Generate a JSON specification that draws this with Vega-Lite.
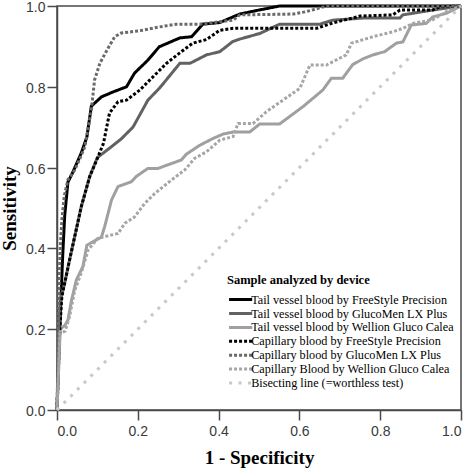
{
  "$schema": "https://vega.github.io/schema/vega-lite/v6.json",
  "width": 404,
  "height": 404,
  "autosize": {"type": "none"},
  "padding": {"left": 57, "top": 6, "right": 11, "bottom": 60},
  "background": "white",
  "config": {
    "view": {"stroke": "#4a4a4a", "strokeWidth": 1.5},
    "axis": {
      "labelFont": "Liberation Sans", "labelFontSize": 14, "labelColor": "#3a3a3a",
      "titleFont": "Liberation Serif", "titleFontSize": 19, "titleFontWeight": "bold", "titleColor": "#000000",
      "domainColor": "#4a4a4a", "domainWidth": 1.5, "tickColor": "#4a4a4a", "tickWidth": 1.5, "tickSize": 10, "grid": false
    },
    "legend": {
      "titleFont": "Liberation Serif", "titleFontSize": 12.5, "titleFontWeight": "bold", "titleColor": "#000000",
      "labelFont": "Liberation Serif", "labelFontSize": 12.2, "labelColor": "#000000", "labelLimit": 0
    }
  },
  "data": {"values": [
    {"s":"a","x":0,"y":0},{"s":"a","x":0.005,"y":0.15},{"s":"a","x":0.01,"y":0.28},{"s":"a","x":0.014,"y":0.38},{"s":"a","x":0.019,"y":0.48},{"s":"a","x":0.027,"y":0.564},{"s":"a","x":0.038,"y":0.586},{"s":"a","x":0.06,"y":0.636},{"s":"a","x":0.074,"y":0.676},{"s":"a","x":0.085,"y":0.752},{"s":"a","x":0.11,"y":0.775},{"s":"a","x":0.138,"y":0.787},{"s":"a","x":0.172,"y":0.8},{"s":"a","x":0.192,"y":0.834},{"s":"a","x":0.225,"y":0.866},{"s":"a","x":0.253,"y":0.899},{"s":"a","x":0.304,"y":0.921},{"s":"a","x":0.333,"y":0.924},{"s":"a","x":0.361,"y":0.955},{"s":"a","x":0.403,"y":0.959},{"s":"a","x":0.452,"y":0.98},{"s":"a","x":0.5,"y":0.99},{"s":"a","x":0.551,"y":1},{"s":"a","x":1,"y":1},
    {"s":"b","x":0,"y":0},{"s":"b","x":0.004,"y":0.18},{"s":"b","x":0.008,"y":0.27},{"s":"b","x":0.019,"y":0.314},{"s":"b","x":0.031,"y":0.371},{"s":"b","x":0.044,"y":0.43},{"s":"b","x":0.06,"y":0.503},{"s":"b","x":0.081,"y":0.578},{"s":"b","x":0.1,"y":0.625},{"s":"b","x":0.13,"y":0.648},{"s":"b","x":0.16,"y":0.672},{"s":"b","x":0.188,"y":0.7},{"s":"b","x":0.225,"y":0.767},{"s":"b","x":0.254,"y":0.797},{"s":"b","x":0.304,"y":0.858},{"s":"b","x":0.329,"y":0.858},{"s":"b","x":0.37,"y":0.879},{"s":"b","x":0.403,"y":0.887},{"s":"b","x":0.435,"y":0.912},{"s":"b","x":0.452,"y":0.918},{"s":"b","x":0.502,"y":0.932},{"s":"b","x":0.551,"y":0.955},{"s":"b","x":0.65,"y":0.955},{"s":"b","x":0.683,"y":0.965},{"s":"b","x":0.757,"y":0.97},{"s":"b","x":0.849,"y":0.97},{"s":"b","x":0.856,"y":0.978},{"s":"b","x":0.93,"y":0.99},{"s":"b","x":1,"y":1},
    {"s":"c","x":0,"y":0},{"s":"c","x":0.004,"y":0.1},{"s":"c","x":0.008,"y":0.2},{"s":"c","x":0.02,"y":0.21},{"s":"c","x":0.027,"y":0.223},{"s":"c","x":0.036,"y":0.272},{"s":"c","x":0.048,"y":0.322},{"s":"c","x":0.064,"y":0.355},{"s":"c","x":0.074,"y":0.408},{"s":"c","x":0.11,"y":0.428},{"s":"c","x":0.118,"y":0.454},{"s":"c","x":0.135,"y":0.52},{"s":"c","x":0.151,"y":0.553},{"s":"c","x":0.184,"y":0.565},{"s":"c","x":0.196,"y":0.578},{"s":"c","x":0.225,"y":0.598},{"s":"c","x":0.25,"y":0.598},{"s":"c","x":0.308,"y":0.619},{"s":"c","x":0.32,"y":0.633},{"s":"c","x":0.353,"y":0.655},{"s":"c","x":0.386,"y":0.672},{"s":"c","x":0.411,"y":0.683},{"s":"c","x":0.436,"y":0.688},{"s":"c","x":0.477,"y":0.688},{"s":"c","x":0.502,"y":0.708},{"s":"c","x":0.551,"y":0.708},{"s":"c","x":0.609,"y":0.751},{"s":"c","x":0.658,"y":0.792},{"s":"c","x":0.679,"y":0.821},{"s":"c","x":0.707,"y":0.821},{"s":"c","x":0.732,"y":0.855},{"s":"c","x":0.757,"y":0.869},{"s":"c","x":0.782,"y":0.879},{"s":"c","x":0.811,"y":0.887},{"s":"c","x":0.84,"y":0.908},{"s":"c","x":0.856,"y":0.911},{"s":"c","x":0.877,"y":0.953},{"s":"c","x":0.914,"y":0.957},{"s":"c","x":0.93,"y":0.973},{"s":"c","x":0.964,"y":0.982},{"s":"c","x":1,"y":1},
    {"s":"d","x":0,"y":0},{"s":"d","x":0.004,"y":0.12},{"s":"d","x":0.007,"y":0.2},{"s":"d","x":0.012,"y":0.28},{"s":"d","x":0.019,"y":0.314},{"s":"d","x":0.031,"y":0.371},{"s":"d","x":0.044,"y":0.43},{"s":"d","x":0.06,"y":0.503},{"s":"d","x":0.081,"y":0.578},{"s":"d","x":0.1,"y":0.623},{"s":"d","x":0.115,"y":0.66},{"s":"d","x":0.13,"y":0.735},{"s":"d","x":0.151,"y":0.763},{"s":"d","x":0.172,"y":0.767},{"s":"d","x":0.205,"y":0.792},{"s":"d","x":0.23,"y":0.817},{"s":"d","x":0.271,"y":0.858},{"s":"d","x":0.304,"y":0.884},{"s":"d","x":0.336,"y":0.908},{"s":"d","x":0.37,"y":0.917},{"s":"d","x":0.403,"y":0.94},{"s":"d","x":0.436,"y":0.945},{"s":"d","x":0.643,"y":0.945},{"s":"d","x":0.683,"y":0.958},{"s":"d","x":0.75,"y":0.975},{"s":"d","x":0.831,"y":0.978},{"s":"d","x":0.849,"y":0.99},{"s":"d","x":0.93,"y":0.99},{"s":"d","x":0.947,"y":0.998},{"s":"d","x":1,"y":1},
    {"s":"e","x":0,"y":0},{"s":"e","x":0.003,"y":0.15},{"s":"e","x":0.005,"y":0.3},{"s":"e","x":0.008,"y":0.4},{"s":"e","x":0.012,"y":0.47},{"s":"e","x":0.018,"y":0.53},{"s":"e","x":0.027,"y":0.57},{"s":"e","x":0.044,"y":0.594},{"s":"e","x":0.06,"y":0.63},{"s":"e","x":0.069,"y":0.652},{"s":"e","x":0.085,"y":0.743},{"s":"e","x":0.093,"y":0.817},{"s":"e","x":0.106,"y":0.858},{"s":"e","x":0.126,"y":0.895},{"s":"e","x":0.143,"y":0.924},{"s":"e","x":0.159,"y":0.933},{"s":"e","x":0.213,"y":0.94},{"s":"e","x":0.246,"y":0.947},{"s":"e","x":0.296,"y":0.955},{"s":"e","x":0.353,"y":0.955},{"s":"e","x":0.436,"y":0.965},{"s":"e","x":0.452,"y":0.978},{"s":"e","x":0.584,"y":0.98},{"s":"e","x":0.617,"y":0.986},{"s":"e","x":0.667,"y":1},{"s":"e","x":1,"y":1},
    {"s":"f","x":0,"y":0},{"s":"f","x":0.004,"y":0.1},{"s":"f","x":0.007,"y":0.19},{"s":"f","x":0.02,"y":0.195},{"s":"f","x":0.031,"y":0.231},{"s":"f","x":0.044,"y":0.297},{"s":"f","x":0.06,"y":0.339},{"s":"f","x":0.077,"y":0.396},{"s":"f","x":0.101,"y":0.425},{"s":"f","x":0.151,"y":0.437},{"s":"f","x":0.168,"y":0.462},{"s":"f","x":0.192,"y":0.478},{"s":"f","x":0.217,"y":0.511},{"s":"f","x":0.242,"y":0.536},{"s":"f","x":0.283,"y":0.569},{"s":"f","x":0.316,"y":0.594},{"s":"f","x":0.341,"y":0.623},{"s":"f","x":0.37,"y":0.639},{"s":"f","x":0.403,"y":0.668},{"s":"f","x":0.436,"y":0.677},{"s":"f","x":0.448,"y":0.709},{"s":"f","x":0.485,"y":0.709},{"s":"f","x":0.518,"y":0.738},{"s":"f","x":0.559,"y":0.767},{"s":"f","x":0.601,"y":0.796},{"s":"f","x":0.626,"y":0.854},{"s":"f","x":0.667,"y":0.854},{"s":"f","x":0.716,"y":0.879},{"s":"f","x":0.729,"y":0.908},{"s":"f","x":0.782,"y":0.924},{"s":"f","x":0.831,"y":0.936},{"s":"f","x":0.857,"y":0.945},{"s":"f","x":0.881,"y":0.957},{"s":"f","x":0.93,"y":0.966},{"s":"f","x":0.964,"y":0.986},{"s":"f","x":1,"y":1},
    {"s":"g","x":0,"y":0},{"s":"g","x":1,"y":1}
  ]},
  "mark": {"type": "line", "strokeWidth": 3, "strokeCap": "butt"},
  "encoding": {
    "x": {"field": "x", "type": "quantitative", "scale": {"domain": [0, 1], "nice": false, "zero": false},
      "axis": {"values": [0, 0.2, 0.4, 0.6, 0.8, 1], "format": ".1f", "title": "1 - Specificity", "labelPadding": 4, "titlePadding": 10}},
    "y": {"field": "y", "type": "quantitative", "scale": {"domain": [0, 1], "nice": false, "zero": false},
      "axis": {"values": [0, 0.2, 0.4, 0.6, 0.8, 1], "format": ".1f", "title": "Sensitivity", "labelPadding": 2, "titlePadding": 6, "labelOffset": 1.5}},
    "color": {"field": "s", "type": "nominal",
      "scale": {"domain": ["a","b","c","d","e","f","g"], "range": ["#000000","#626262","#a0a0a0","#000000","#6a6a6a","#a6a6a6","#c8c8c8"]},
      "legend": {"title": "Sample analyzed by device", "orient": "none", "legendX": 170, "legendY": 268, "padding": 0,
        "titleFont": "Liberation Serif", "titleFontSize": 12.5, "titleFontWeight": "bold", "titleColor": "#000000", "titlePadding": 7,
        "labelFont": "Liberation Serif", "labelFontSize": 12.2, "labelColor": "#000000", "labelOffset": 12, "labelLimit": 0,
        "symbolType": "M-1.15,0H5.45", "symbolSize": 49, "symbolStrokeWidth": 3, "rowPadding": 0.9,
        "labelExpr": "{'a':'Tail vessel blood by FreeStyle Precision','b':'Tail vessel blood by GlucoMen LX Plus','c':'Tail vessel blood by Wellion Gluco Calea','d':'Capillary blood by FreeStyle Precision','e':'Capillary blood by GlucoMen LX Plus','f':'Capillary Blood by Wellion Gluco Calea','g':'Bisecting line (=worthless test)'}[datum.label]"}},
    "strokeDash": {"field": "s", "type": "nominal",
      "scale": {"domain": ["a","b","c","d","e","f","g"], "range": [[1,0],[1,0],[1,0],[3,2],[3,2],[3,2],[3,6.5]]},
      "legend": {"title": "Sample analyzed by device", "orient": "none", "legendX": 170, "legendY": 268, "padding": 0,
        "titleFont": "Liberation Serif", "titleFontSize": 12.5, "titleFontWeight": "bold", "titleColor": "#000000", "titlePadding": 7,
        "labelFont": "Liberation Serif", "labelFontSize": 12.2, "labelColor": "#000000", "labelOffset": 12, "labelLimit": 0,
        "symbolType": "M-1.15,0H5.45", "symbolSize": 49, "symbolStrokeWidth": 3, "rowPadding": 0.9,
        "labelExpr": "{'a':'Tail vessel blood by FreeStyle Precision','b':'Tail vessel blood by GlucoMen LX Plus','c':'Tail vessel blood by Wellion Gluco Calea','d':'Capillary blood by FreeStyle Precision','e':'Capillary blood by GlucoMen LX Plus','f':'Capillary Blood by Wellion Gluco Calea','g':'Bisecting line (=worthless test)'}[datum.label]"}}
  }
}
